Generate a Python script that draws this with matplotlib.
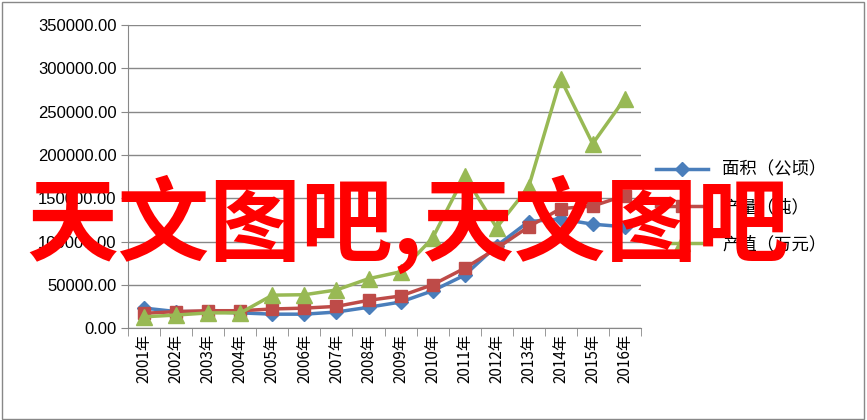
import matplotlib
matplotlib.use('Agg')
import matplotlib.pyplot as plt
from matplotlib.patches import Rectangle

plt.rcParams['font.family'] = ['Noto Sans CJK SC', 'DejaVu Sans']

years = [f"{y}年" for y in range(2001, 2017)]
area = [23000, 19000, 19000, 17500, 16000, 16000, 18500, 24000, 30000, 43000, 61000, 95000, 123000, 126000, 120000, 117000]
output = [17000, 19000, 20000, 20000, 22000, 23000, 25000, 32000, 37000, 50000, 69000, 92000, 117000, 138000, 141000, 153000]
value = [13000, 15000, 17500, 17500, 38000, 38500, 44000, 57000, 65000, 104000, 176000, 116000, 163000, 288000, 213000, 265000]
names = ['面积（公顷）', '产量（吨）', '产值（万元）']

fig = plt.figure(figsize=(8.67, 4.2), dpi=100)
ax = fig.add_axes([0.148, 0.219, 0.591, 0.721])
x = list(range(len(years)))
ax.plot(x, area, color='#4a7ebb', marker='D', markersize=7, lw=2.5, label=names[0])
ax.plot(x, output, color='#be4b48', marker='s', markersize=9, lw=2.5, label=names[1])
ax.plot(x, value, color='#98b954', marker='^', markersize=11, lw=2.5, label=names[2])
ax.set_ylim(0, 350000)
ax.set_xlim(-0.5, len(years) - 0.5)
ax.set_yticks(range(0, 350001, 50000))
ax.set_yticklabels([f"{v:.2f}" for v in range(0, 350001, 50000)], fontsize=12, family=['Liberation Sans'])
ax.set_xticks(x)
ax.set_xticklabels(years, rotation=90, fontsize=11)
ax.set_xticks([i - 0.5 for i in range(len(years) + 1)], minor=True)
ax.tick_params(axis='x', which='major', length=0, pad=4)
ax.tick_params(axis='x', which='minor', length=6, color='#888888')
ax.tick_params(axis='y', length=5, color='#888888')
ax.grid(axis='y', color='#888888', lw=1)
ax.set_axisbelow(True)
for s in ['top', 'right']:
    ax.spines[s].set_visible(False)
for s in ['left', 'bottom']:
    ax.spines[s].set_color('#888888')
ax.legend(loc='center left', bbox_to_anchor=(1.0, 0.40), frameon=False, fontsize=12.5,
          handlelength=3, labelspacing=1.1)
fig.patches.append(Rectangle((0.002, 0.003), 0.995, 0.993, transform=fig.transFigure, fill=False, edgecolor='#888888', lw=1))
fig.text(0.03, 0.465, '天文图吧,天文图吧', color='red', fontsize=66, fontweight='bold', va='center', ha='left', zorder=10)
fig.savefig('out.png', dpi=100)
